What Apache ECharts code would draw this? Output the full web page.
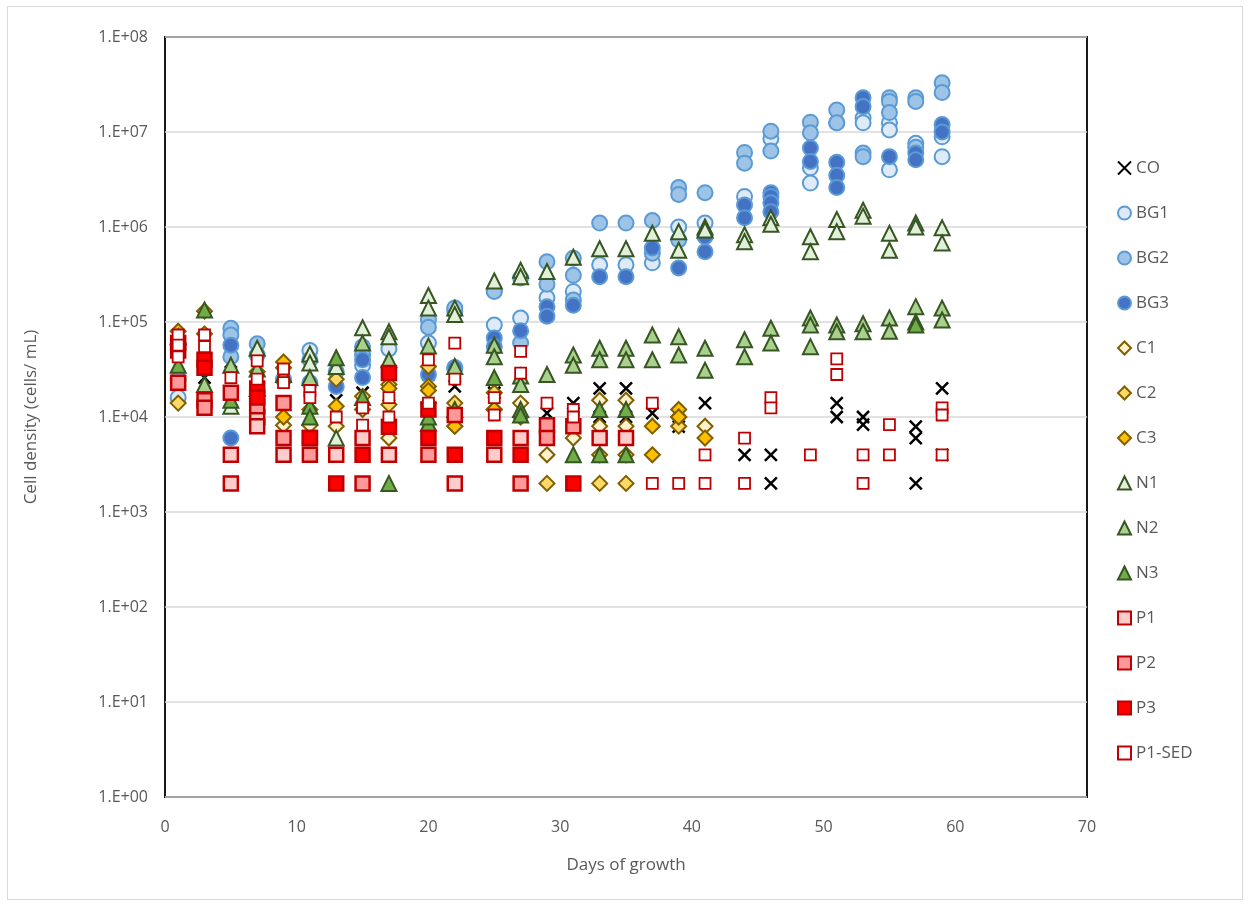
<!DOCTYPE html>
<html>
<head>
<meta charset="utf-8">
<script src="https://cdn.jsdelivr.net/npm/echarts@6/dist/echarts.min.js"></script>
<style>
html,body{margin:0;padding:0;background:#fff;}
#frame{position:absolute;left:7px;top:6px;width:1236px;height:894px;border:1px solid #d9d9d9;box-sizing:border-box;}
#chart{position:absolute;left:0;top:0;width:1250px;height:907px;}
</style>
</head>
<body>
<div id="frame"></div>
<div id="chart"></div>
<script>
// ---- data: [day, cells/mL] ----
const seriesNames = ['CO','BG1','BG2','BG3','C1','C2','C3','N1','N2','N3','P1','P2','P3','P1-SED'];
const xTicks = [0,10,20,30,40,50,60,70];
const yTicks = [1,10,100,1000,10000,100000,1000000,10000000,100000000];

const CO = [[3,2.6e4],[5,3.8e4],[9,3e4],[13,1.5e4],[15,1.8e4],[17,1.7e4],[20,2.8e4],[22,2.1e4],[25,1.8e4],[29,1.1e4],[31,1.4e4],[33,2e4],[33,1e4],[35,2e4],[35,1e4],[37,1.1e4],[39,9.3e3],[39,7.9e3],[41,1.4e4],[44,4e3],[46,4e3],[46,2e3],[51,1.4e4],[51,1e4],[53,1e4],[53,8.3e3],[57,7.9e3],[57,6e3],[57,2e3],[59,2e4],[59,4e3]];
const BG1 = [[1,1.6e4],[7,4.5e4],[11,5e4],[13,3e4],[15,3.5e4],[17,5.2e4],[20,6e4],[22,1.3e5],[22,3.3e4],[25,9.3e4],[25,2.15e5],[27,1.1e5],[27,2.9e5],[29,1.8e5],[31,2.1e5],[33,4e5],[35,4e5],[37,4.2e5],[39,1e6],[41,1.1e6],[44,2.1e6],[46,8.5e6],[49,4.2e6],[49,2.9e6],[51,1.25e7],[53,1.4e7],[53,1.25e7],[55,1.25e7],[55,1.05e7],[55,4e6],[57,7.6e6],[59,5.5e6],[59,8.9e6]];
const BG2 = [[1,2.5e4],[5,8.6e4],[5,7.3e4],[5,4.3e4],[7,5.9e4],[9,2.5e4],[11,4e4],[15,5.5e4],[15,4.5e4],[20,1.05e5],[20,8.8e4],[22,1.4e5],[25,2.1e5],[27,6e4],[29,4.3e5],[29,2.5e5],[31,4.7e5],[31,3.1e5],[31,1.7e5],[33,1.1e6],[35,1.1e6],[37,1.17e6],[37,5.3e5],[39,2.6e6],[39,2.2e6],[39,7.3e5],[41,2.3e6],[44,6.1e6],[44,4.7e6],[46,1.02e7],[46,6.3e6],[49,1.27e7],[49,9.8e6],[51,1.7e7],[51,1.25e7],[53,6e6],[53,5.5e6],[55,2.3e7],[55,2.1e7],[55,1.6e7],[57,2.3e7],[57,2.1e7],[57,6.9e6],[59,3.3e7],[59,2.6e7]];
const BG3 = [[5,5.7e4],[5,6e3],[11,2.3e4],[13,2.1e4],[15,4e4],[15,2.6e4],[20,2.8e4],[22,3.3e4],[25,6.8e4],[25,5.5e4],[27,8.1e4],[29,1.45e5],[29,1.15e5],[31,1.5e5],[33,3e5],[35,3e5],[37,6e5],[39,3.7e5],[41,7.9e5],[41,5.5e5],[44,1.7e6],[44,1.25e6],[46,2.3e6],[46,2.1e6],[46,1.8e6],[46,1.45e6],[49,6.8e6],[49,4.9e6],[51,4.8e6],[51,3.5e6],[51,2.6e6],[53,2.3e7],[53,1.85e7],[55,5.5e6],[57,6e6],[57,5.1e6],[59,1.2e7],[59,1e7]];
const C1 = [[7,3e4],[9,8.2e3],[11,8.2e3],[13,8e3],[15,1.2e4],[17,6e3],[20,1.4e4],[22,8e3],[25,1.2e4],[27,1.4e4],[29,4e3],[31,6e3],[33,1.5e4],[33,8e3],[35,1.5e4],[35,8e3],[39,1e4],[41,8e3]];
const C2 = [[1,1.4e4],[3,7.5e4],[9,3.3e4],[11,1.2e4],[13,2.5e4],[15,1.65e4],[17,2.2e4],[17,1.35e4],[20,3.4e4],[22,1.4e4],[25,1.8e4],[27,1e4],[29,2e3],[33,4e3],[33,2e3],[35,4e3],[35,2e3],[39,8e3]];
const C3 = [[1,8e4],[3,1.3e5],[9,3.8e4],[9,1e4],[13,1.3e4],[17,2e4],[20,2.1e4],[20,1.9e4],[22,8e3],[25,1.2e4],[37,8e3],[37,4e3],[39,1.2e4],[39,1e4],[41,6e3]];
const N1 = [[5,1.3e4],[7,5.3e4],[11,4.6e4],[11,3.7e4],[13,3.4e4],[13,6e3],[15,8.7e4],[17,7.9e4],[17,7e4],[20,1.9e5],[20,1.4e5],[22,1.4e5],[22,1.2e5],[25,2.7e5],[27,3.5e5],[27,3e5],[29,3.4e5],[31,4.8e5],[33,5.9e5],[35,5.9e5],[37,8.6e5],[39,8.9e5],[39,5.7e5],[41,1e6],[41,9.3e5],[44,8.3e5],[44,7e5],[46,1.25e6],[46,1.07e6],[49,7.9e5],[49,5.5e5],[51,1.2e6],[51,8.9e5],[53,1.5e6],[53,1.3e6],[55,8.6e5],[55,5.7e5],[57,1.1e6],[57,1e6],[59,9.8e5],[59,6.8e5]];
const N2 = [[1,7e4],[3,2.2e4],[5,3.5e4],[7,3.2e4],[9,2.8e4],[11,2.6e4],[15,6e4],[17,4e4],[20,5.6e4],[22,3.4e4],[25,5.7e4],[25,4.3e4],[27,2.7e4],[27,2.2e4],[29,2.8e4],[31,4.5e4],[31,3.5e4],[33,5.3e4],[33,4e4],[35,5.3e4],[35,4e4],[37,7.3e4],[37,4e4],[39,7e4],[39,4.5e4],[41,5.3e4],[41,3.1e4],[44,6.5e4],[44,4.3e4],[46,8.6e4],[46,6e4],[49,1.1e5],[49,9.3e4],[49,5.5e4],[51,9.3e4],[51,7.9e4],[53,9.6e4],[53,7.9e4],[55,1.1e5],[55,8e4],[57,1.45e5],[59,1.4e5],[59,1.05e5]];
const N3 = [[1,3.5e4],[3,1.34e5],[5,1.5e4],[7,2e4],[11,1.3e4],[11,1e4],[13,4.2e4],[15,1.6e4],[17,2e3],[20,8.6e3],[20,1e4],[22,1.2e4],[25,2.6e4],[27,1.2e4],[27,1.05e4],[31,4e3],[33,1.2e4],[33,4e3],[35,1.2e4],[35,4e3],[57,1e5],[57,9.3e4]];
const P1 = [[5,4e3],[5,2e3],[7,1e4],[7,8e3],[9,4e3],[11,6e3],[13,4e3],[15,6e3],[17,4e3],[22,2e3],[25,4e3],[27,6e3],[33,6e3],[35,6e3]];
const P2 = [[1,2.3e4],[3,1.5e4],[3,1.25e4],[5,1.8e4],[7,1.3e4],[9,1.4e4],[9,6e3],[11,4e3],[15,2e3],[20,4e3],[22,1.05e4],[27,2e3],[29,8.2e3],[29,6e3],[31,8e3]];
const P3 = [[1,5e4],[1,6e4],[3,4e4],[3,3.3e4],[7,2e4],[7,1.6e4],[11,6e3],[13,2e3],[15,4e3],[17,2.9e4],[17,7.9e3],[20,1.2e4],[20,6e3],[22,4e3],[25,6e3],[27,4e3],[31,2e3]];
const P1SED = [[1,7.3e4],[1,5.7e4],[1,4.3e4],[3,7.3e4],[3,5.5e4],[5,2.6e4],[7,3.9e4],[7,2.5e4],[9,3.2e4],[9,2.3e4],[11,1.9e4],[11,1.6e4],[13,1e4],[15,1.25e4],[15,8.2e3],[17,1.6e4],[17,1e4],[20,4e4],[20,1.4e4],[22,6e4],[22,2.5e4],[25,1.6e4],[25,1.05e4],[27,4.9e4],[27,2.9e4],[29,1.4e4],[31,1.2e4],[31,1e4],[37,1.4e4],[37,2e3],[39,2e3],[41,4e3],[41,2e3],[44,6e3],[44,2e3],[46,1.6e4],[46,1.25e4],[49,4e3],[51,4.1e4],[51,2.8e4],[53,4e3],[53,2e3],[55,8.3e3],[55,4e3],[59,1.25e4],[59,1.05e4],[59,4e3]];

const dataList = [CO,BG1,BG2,BG3,C1,C2,C3,N1,N2,N3,P1,P2,P3,P1SED];

// ---- styles ----
const XPATH = 'path://M0,0L10,10M10,0L0,10';
const styles = [
  {symbol:XPATH, size:12, fill:'#000', stroke:'#000', bw:2.5},
  {symbol:'circle', size:15, fill:'#DEEBF7', stroke:'#5B9BD5', bw:2},
  {symbol:'circle', size:15, fill:'#9DC3E6', stroke:'#5B9BD5', bw:2},
  {symbol:'circle', size:15, fill:'#4472C4', stroke:'#5B9BD5', bw:2},
  {symbol:'diamond', size:15, fill:'#FFF2CC', stroke:'#7F6000', bw:2},
  {symbol:'diamond', size:15, fill:'#FFD966', stroke:'#7F6000', bw:2},
  {symbol:'diamond', size:15, fill:'#FFC000', stroke:'#7F6000', bw:2},
  {symbol:'triangle', size:15, fill:'#E2F0D9', stroke:'#375623', bw:2},
  {symbol:'triangle', size:15, fill:'#A9D18E', stroke:'#375623', bw:2},
  {symbol:'triangle', size:15, fill:'#70AD47', stroke:'#375623', bw:2},
  {symbol:'rect', size:14, fill:'#FFCCCC', stroke:'#C00000', bw:2.5},
  {symbol:'rect', size:14, fill:'#FF9999', stroke:'#C00000', bw:2.5},
  {symbol:'rect', size:14, fill:'#FF0000', stroke:'#C00000', bw:2.5},
  {symbol:'rect', size:11, fill:'#FFFFFF', stroke:'#C00000', bw:1.8}
];

const series = seriesNames.map((n,i)=>({
  name:n, type:'scatter', data:dataList[i],
  symbol:styles[i].symbol, symbolSize:styles[i].size,
  itemStyle:{color:styles[i].fill, borderColor:styles[i].stroke, borderWidth:styles[i].bw, opacity:1},
  emphasis:{disabled:true}, z: 2+i
}));

const chart = echarts.init(document.getElementById('chart'), null, {renderer:'canvas'});
chart.setOption({
  animation:false,
  backgroundColor:'transparent',
  textStyle:{fontFamily:'Open Sans, Noto Sans, sans-serif', color:'#595959'},
  grid:{left:165, right:163, top:37, bottom:110, show:true, borderColor:'#000', borderWidth:1.8, backgroundColor:'transparent'},
  xAxis:{
    type:'value', min:xTicks[0], max:xTicks[xTicks.length-1], interval:10,
    name:'Days of growth', nameLocation:'middle', nameGap:60,
    nameTextStyle:{fontSize:17, color:'#595959'},
    axisLine:{show:false}, axisTick:{show:false}, splitLine:{show:false},
    axisLabel:{fontSize:16, color:'#595959', margin:22}
  },
  yAxis:{
    type:'log', logBase:10, min:yTicks[0], max:yTicks[yTicks.length-1],
    name:'Cell density (cells/ mL)', nameLocation:'middle', nameGap:125,
    nameTextStyle:{fontSize:17, color:'#595959'},
    axisLine:{show:false}, axisTick:{show:false},
    splitLine:{show:true, lineStyle:{color:'#D9D9D9', width:1.5}},
    axisLabel:{fontSize:16, color:'#595959', margin:17,
      formatter:v=>{const e=Math.round(Math.log10(v)); return '1.E+'+String(e).padStart(2,'0');}}
  },
  legend:{
    orient:'vertical', left:1112, top:151, itemGap:21, itemWidth:13, itemHeight:13,
    textStyle:{fontSize:17, color:'#595959', lineHeight:24},
    data:seriesNames
  },
  series:series
});
</script>
</body>
</html>
